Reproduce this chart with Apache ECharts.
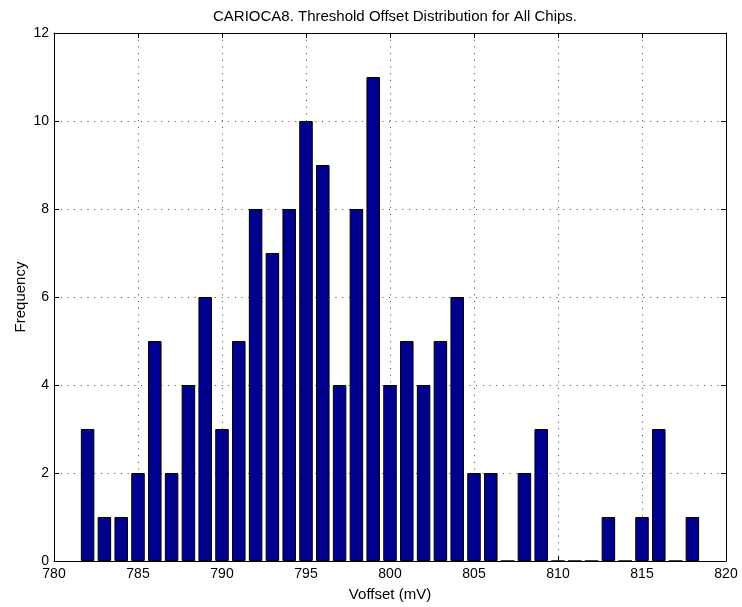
<!DOCTYPE html>
<html>
<head>
<meta charset="utf-8">
<script src="https://cdn.jsdelivr.net/npm/echarts@6/dist/echarts.min.js"></script>
<style>
  html, body { margin: 0; padding: 0; background: #fff; }
  #chart { width: 742px; height: 607px; }
</style>
</head>
<body>
<div id="chart"></div>
<script>
// Bin centres (mV) and the number of chips falling in each bin
const offsets = [782, 783, 784, 785, 786, 787, 788, 789, 790, 791, 792, 793, 794,
                 795, 796, 797, 798, 799, 800, 801, 802, 803, 804, 805, 806, 807,
                 808, 809, 810, 811, 812, 813, 814, 815, 816, 817, 818];
const counts  = [3, 1, 1, 2, 5, 2, 4, 6, 3, 5, 8, 7, 8,
                 10, 9, 4, 8, 11, 4, 5, 4, 5, 6, 2, 2, 0,
                 2, 3, 0, 0, 0, 1, 0, 1, 3, 0, 1];
const xTicks = { min: 780, max: 820, step: 5 };
const yTicks = { min: 0, max: 12, step: 2 };

const FONT = '"Liberation Sans", Arial, sans-serif';
const dotted = { color: '#444', width: 1, type: [1, 5.7] };

const chart = echarts.init(document.getElementById('chart'), null, { renderer: 'canvas' });

const baseAxisLine = { show: true, onZero: false, lineStyle: { color: '#000', width: 1 } };
const innerTick = { show: true, inside: true, length: 5, lineStyle: { color: '#000' } };

chart.setOption({
  animation: false,
  backgroundColor: '#fff',
  title: {
    text: 'CARIOCA8. Threshold Offset Distribution for All Chips.',
    left: 390, top: 4, textAlign: 'center',
    textStyle: { fontFamily: FONT, fontSize: 15, fontWeight: 'normal', color: '#000' }
  },
  grid: { left: 54, right: 16, top: 33, bottom: 44, containLabel: false },
  xAxis: [{
    type: 'value', min: xTicks.min, max: xTicks.max, interval: xTicks.step,
    position: 'bottom',
    name: 'Voffset (mV)', nameLocation: 'middle', nameGap: 26,
    nameMoveOverlap: false,
    nameTextStyle: { fontFamily: FONT, fontSize: 15, color: '#000' },
    axisLine: baseAxisLine, axisTick: innerTick,
    axisLabel: { fontFamily: FONT, fontSize: 14, color: '#000', margin: 6 },
    splitLine: { show: true, lineStyle: dotted }
  }, {
    type: 'value', min: xTicks.min, max: xTicks.max, interval: xTicks.step,
    position: 'top',
    axisLine: baseAxisLine, axisTick: innerTick,
    axisLabel: { show: false }, splitLine: { show: false }
  }],
  yAxis: [{
    type: 'value', min: yTicks.min, max: yTicks.max, interval: yTicks.step,
    position: 'left',
    name: 'Frequency', nameLocation: 'middle', nameGap: 26,
    nameMoveOverlap: false,
    nameTextStyle: { fontFamily: FONT, fontSize: 15, color: '#000' },
    axisLine: baseAxisLine, axisTick: innerTick,
    axisLabel: { fontFamily: FONT, fontSize: 14, color: '#000', margin: 5 },
    splitLine: { show: true, lineStyle: dotted }
  }, {
    type: 'value', min: yTicks.min, max: yTicks.max, interval: yTicks.step,
    position: 'right',
    axisLine: baseAxisLine, axisTick: innerTick,
    axisLabel: { show: false }, splitLine: { show: false }
  }],
  series: [{
    type: 'bar',
    xAxisIndex: 0, yAxisIndex: 0,
    data: offsets.map((x, i) => [x, counts[i]]),
    barWidth: 13.5,
    itemStyle: { color: '#00008F', borderColor: '#000', borderWidth: 1 }
  }]
});
</script>
</body>
</html>
